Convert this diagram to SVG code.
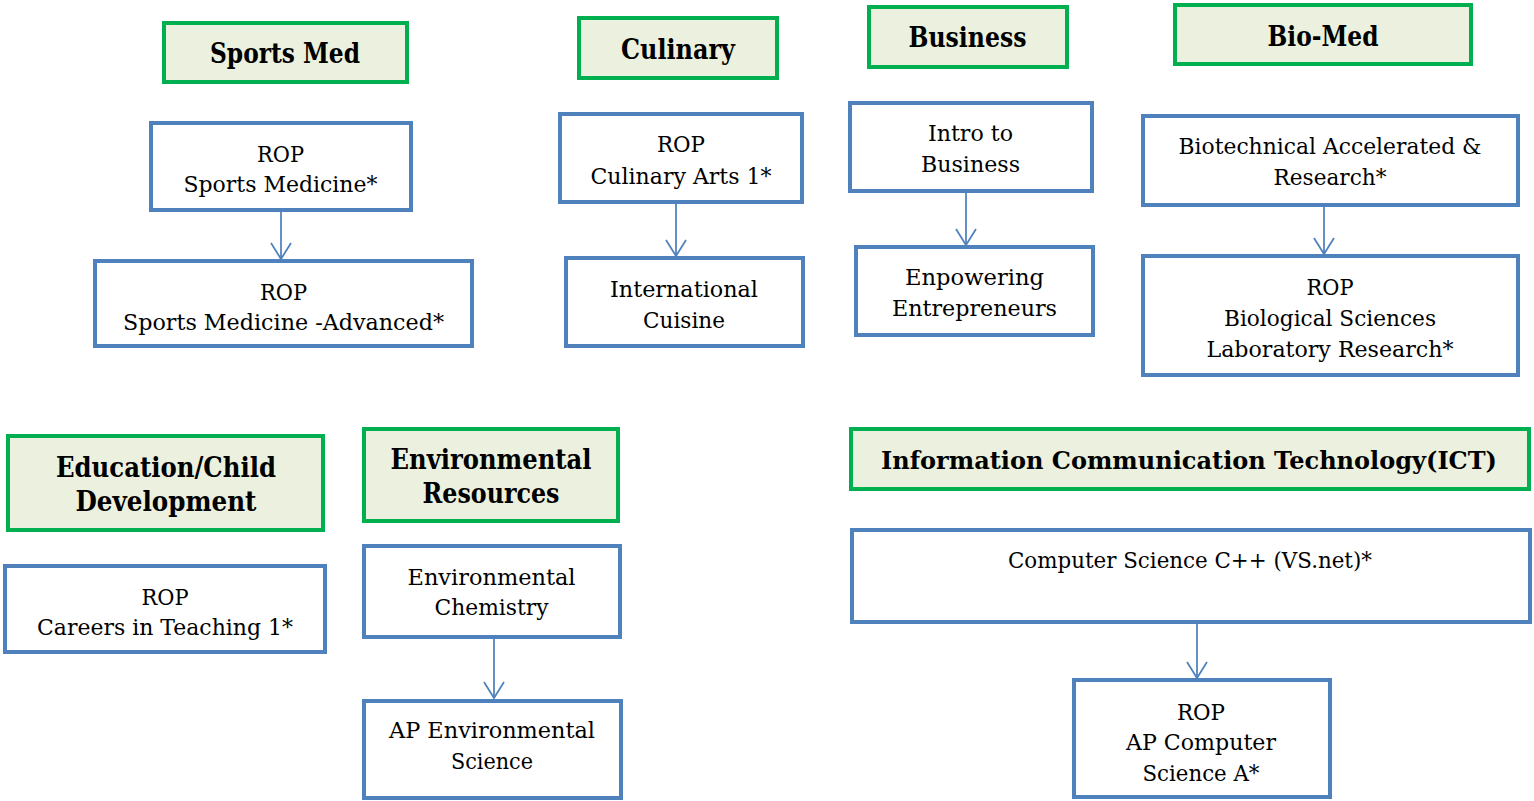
<svg xmlns="http://www.w3.org/2000/svg" width="1534" height="801" viewBox="0 0 1534 801">
<defs>
<style>
.hdr{fill:#EBF1DE;stroke:#00B050;stroke-width:4}
.box{fill:#FFFFFF;stroke:#4F81BD;stroke-width:4}
.ht{font-family:"DejaVu Serif","Liberation Serif",serif;font-weight:bold;font-size:27px;fill:#000;text-anchor:middle}
.bt{font-family:"DejaVu Serif","Liberation Serif",serif;font-size:23px;fill:#000;text-anchor:middle}
.con{stroke:#4F81BD;stroke-width:1.75;fill:none}
</style>
<marker id="arr" markerUnits="userSpaceOnUse" markerWidth="20" markerHeight="24" refX="16" refY="10" orient="auto" overflow="visible">
<path d="M0,0 L16,10 L0,20" fill="none" stroke="#4F81BD" stroke-width="1.75"/>
</marker>
</defs>
<rect width="1534" height="801" fill="#FFFFFF"/>

<g id="connectors">
<line class="con" x1="281" y1="212" x2="281" y2="259" marker-end="url(#arr)"/>
<line class="con" x1="676" y1="204" x2="676" y2="256" marker-end="url(#arr)"/>
<line class="con" x1="966" y1="193" x2="966" y2="245" marker-end="url(#arr)"/>
<line class="con" x1="1324" y1="207" x2="1324" y2="254" marker-end="url(#arr)"/>
<line class="con" x1="494" y1="639" x2="494" y2="698" marker-end="url(#arr)"/>
<line class="con" x1="1197" y1="624" x2="1197" y2="678" marker-end="url(#arr)"/>
</g>

<g id="h-sportsmed">
<rect class="hdr" x="164" y="23" width="243" height="59"/>
<text class="ht" x="285" y="63" textLength="150" lengthAdjust="spacingAndGlyphs">Sports Med</text>
</g>
<g id="h-culinary">
<rect class="hdr" x="579" y="18" width="198" height="60"/>
<text class="ht" x="678" y="59" textLength="114" lengthAdjust="spacingAndGlyphs">Culinary</text>
</g>
<g id="h-business">
<rect class="hdr" x="869" y="7" width="198" height="60"/>
<text class="ht" x="967.5" y="47" textLength="118" lengthAdjust="spacingAndGlyphs">Business</text>
</g>
<g id="h-biomed">
<rect class="hdr" x="1175" y="5" width="296" height="59"/>
<text class="ht" x="1323" y="46" textLength="111" lengthAdjust="spacingAndGlyphs">Bio-Med</text>
</g>
<g id="h-education">
<rect class="hdr" x="8" y="436" width="315" height="94"/>
<text class="ht" x="166" y="477" textLength="220" lengthAdjust="spacingAndGlyphs">Education/Child</text>
<text class="ht" x="166" y="511" textLength="181" lengthAdjust="spacingAndGlyphs">Development</text>
</g>
<g id="h-environmental">
<rect class="hdr" x="364" y="429" width="254" height="92"/>
<text class="ht" x="491" y="469" textLength="201" lengthAdjust="spacingAndGlyphs">Environmental</text>
<text class="ht" x="491" y="503" textLength="137" lengthAdjust="spacingAndGlyphs">Resources</text>
</g>
<g id="h-ict">
<rect class="hdr" x="851" y="429" width="678" height="60"/>
<text class="ht" x="1189" y="469" style="font-size:25px" textLength="616" lengthAdjust="spacingAndGlyphs">Information Communication Technology(ICT)</text>
</g>

<g id="n-rop-sports">
<rect class="box" x="151" y="123" width="260" height="87"/>
<text class="bt" x="280.5" y="162" textLength="47" lengthAdjust="spacingAndGlyphs">ROP</text>
<text class="bt" x="280.5" y="192" textLength="194" lengthAdjust="spacingAndGlyphs">Sports Medicine*</text>
</g>
<g id="n-rop-sports-adv">
<rect class="box" x="95" y="261" width="377" height="85"/>
<text class="bt" x="283.5" y="300" textLength="47" lengthAdjust="spacingAndGlyphs">ROP</text>
<text class="bt" x="283.5" y="330" textLength="321" lengthAdjust="spacingAndGlyphs">Sports Medicine -Advanced*</text>
</g>
<g id="n-rop-culinary">
<rect class="box" x="560" y="114" width="242" height="88"/>
<text class="bt" x="681" y="152" textLength="48" lengthAdjust="spacingAndGlyphs">ROP</text>
<text class="bt" x="681" y="184" textLength="181" lengthAdjust="spacingAndGlyphs">Culinary Arts 1*</text>
</g>
<g id="n-intl-cuisine">
<rect class="box" x="566" y="258" width="237" height="88"/>
<text class="bt" x="684" y="297" textLength="148" lengthAdjust="spacingAndGlyphs">International</text>
<text class="bt" x="684" y="328" textLength="82" lengthAdjust="spacingAndGlyphs">Cuisine</text>
</g>
<g id="n-intro-business">
<rect class="box" x="850" y="103" width="242" height="88"/>
<text class="bt" x="970.5" y="141" textLength="85" lengthAdjust="spacingAndGlyphs">Intro to</text>
<text class="bt" x="970.5" y="172" textLength="99" lengthAdjust="spacingAndGlyphs">Business</text>
</g>
<g id="n-entrepreneurs">
<rect class="box" x="856" y="247" width="237" height="88"/>
<text class="bt" x="974.5" y="285" textLength="139" lengthAdjust="spacingAndGlyphs">Enpowering</text>
<text class="bt" x="974.5" y="316" textLength="165" lengthAdjust="spacingAndGlyphs">Entrepreneurs</text>
</g>
<g id="n-biotech">
<rect class="box" x="1143" y="116" width="375" height="89"/>
<text class="bt" x="1330" y="154" textLength="303" lengthAdjust="spacingAndGlyphs">Biotechnical Accelerated &amp;</text>
<text class="bt" x="1330" y="185" textLength="113" lengthAdjust="spacingAndGlyphs">Research*</text>
</g>
<g id="n-rop-bio">
<rect class="box" x="1143" y="256" width="375" height="119"/>
<text class="bt" x="1330" y="295" textLength="47" lengthAdjust="spacingAndGlyphs">ROP</text>
<text class="bt" x="1330" y="326" textLength="212" lengthAdjust="spacingAndGlyphs">Biological Sciences</text>
<text class="bt" x="1330" y="357" textLength="247" lengthAdjust="spacingAndGlyphs">Laboratory Research*</text>
</g>
<g id="n-rop-teaching">
<rect class="box" x="5" y="566" width="320" height="86"/>
<text class="bt" x="165" y="605" textLength="47" lengthAdjust="spacingAndGlyphs">ROP</text>
<text class="bt" x="165" y="635" textLength="256" lengthAdjust="spacingAndGlyphs">Careers in Teaching 1*</text>
</g>
<g id="n-env-chem">
<rect class="box" x="364" y="546" width="256" height="91"/>
<text class="bt" x="491.5" y="585" textLength="168" lengthAdjust="spacingAndGlyphs">Environmental</text>
<text class="bt" x="491.5" y="615" textLength="114" lengthAdjust="spacingAndGlyphs">Chemistry</text>
</g>
<g id="n-ap-env">
<rect class="box" x="364" y="701" width="257" height="97"/>
<text class="bt" x="492" y="738" textLength="206" lengthAdjust="spacingAndGlyphs">AP Environmental</text>
<text class="bt" x="492" y="769" textLength="82" lengthAdjust="spacingAndGlyphs">Science</text>
</g>
<g id="n-cs-cpp">
<rect class="box" x="852" y="530" width="678" height="92"/>
<text class="bt" x="1190" y="568" textLength="364" lengthAdjust="spacingAndGlyphs">Computer Science C++ (VS.net)*</text>
</g>
<g id="n-rop-apcs">
<rect class="box" x="1074" y="680" width="256" height="117"/>
<text class="bt" x="1201" y="720" textLength="48" lengthAdjust="spacingAndGlyphs">ROP</text>
<text class="bt" x="1201" y="750" textLength="150" lengthAdjust="spacingAndGlyphs">AP Computer</text>
<text class="bt" x="1201" y="781" textLength="117" lengthAdjust="spacingAndGlyphs">Science A*</text>
</g>
</svg>
